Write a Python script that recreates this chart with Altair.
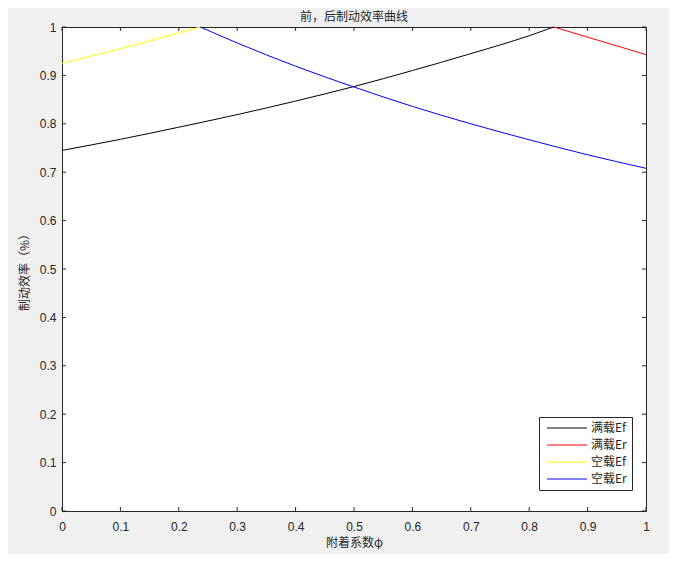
import altair as alt
import pandas as pd

# ---- data ----
series_names = ["满载Ef", "满载Er", "空载Ef", "空载Er"]
series_colors = ["#000000", "#ff0000", "#ffff00", "#0000ff"]

full_ef_phi = [0.0, 0.1, 0.2, 0.3, 0.4, 0.5, 0.6, 0.7, 0.8, 0.842]
full_ef_val = [0.745, 0.768, 0.793, 0.819, 0.847, 0.877, 0.910, 0.945, 0.982, 1.0]

full_er_phi = [0.842, 0.9, 0.95, 1.0]
full_er_val = [1.0, 0.979, 0.961, 0.943]

empty_ef_phi = [0.0, 0.05, 0.1, 0.15, 0.2, 0.237]
empty_ef_val = [0.925, 0.940, 0.955, 0.971, 0.988, 1.0]

empty_er_phi = [0.237, 0.3, 0.4, 0.5, 0.6, 0.7, 0.8, 0.9, 1.0]
empty_er_val = [1.0, 0.967, 0.919, 0.876, 0.836, 0.800, 0.767, 0.736, 0.708]

x_ticks = [0, 0.1, 0.2, 0.3, 0.4, 0.5, 0.6, 0.7, 0.8, 0.9, 1]
y_ticks = [0, 0.1, 0.2, 0.3, 0.4, 0.5, 0.6, 0.7, 0.8, 0.9, 1]

rows = []
for name, xs, ys in [
    (series_names[0], full_ef_phi, full_ef_val),
    (series_names[1], full_er_phi, full_er_val),
    (series_names[2], empty_ef_phi, empty_ef_val),
    (series_names[3], empty_er_phi, empty_er_val),
]:
    for i, (a, b) in enumerate(zip(xs, ys)):
        rows.append({"series": name, "phi": a, "eff": b, "i": i})
df = pd.DataFrame(rows)

W, H = 584, 484
AX = "#262626"
xscale = alt.Scale(domain=[0, 1], nice=False, zero=False)
yscale = alt.Scale(domain=[0, 1], nice=False, zero=False)
xaxis = alt.Axis(values=x_ticks, format="~g", title="附着系数φ", labelFlush=False,
                 labelPadding=10, titlePadding=5)
yaxis = alt.Axis(values=y_ticks, format="~g", title="制动效率（%）", labelFlush=False,
                 labelPadding=6, titlePadding=8)

lines = alt.Chart(df).mark_line(strokeWidth=1, interpolate="monotone").encode(
    x=alt.X("phi:Q", scale=xscale, axis=xaxis),
    y=alt.Y("eff:Q", scale=yscale, axis=yaxis),
    color=alt.Color("series:N", title=None,
                    scale=alt.Scale(domain=series_names, range=series_colors),
                    legend=alt.Legend(orient="none", legendX=477, legendY=390,
                                      symbolType="M-4,0H4", symbolSize=100,
                                      symbolStrokeWidth=1, symbolOffset=17,
                                      labelOffset=18, padding=5, rowPadding=5,
                                      strokeColor=AX, fillColor="white",
                                      labelFont="Noto Sans CJK SC", labelFontSize=12,
                                      labelColor=AX)),
    order="i:Q",
)

xt = pd.DataFrame({"phi": x_ticks})
yt = pd.DataFrame({"eff": y_ticks})
TL = 4
bottom_ticks = alt.Chart(xt).mark_rule(color=AX, strokeWidth=1).encode(
    x=alt.X("phi:Q", scale=xscale, axis=xaxis), y=alt.value(H), y2=alt.value(H - TL))
top_ticks = alt.Chart(xt).mark_rule(color=AX, strokeWidth=1).encode(
    x=alt.X("phi:Q", scale=xscale, axis=xaxis), y=alt.value(0), y2=alt.value(TL))
left_ticks = alt.Chart(yt).mark_rule(color=AX, strokeWidth=1).encode(
    y=alt.Y("eff:Q", scale=yscale, axis=yaxis), x=alt.value(0), x2=alt.value(TL))
right_ticks = alt.Chart(yt).mark_rule(color=AX, strokeWidth=1).encode(
    y=alt.Y("eff:Q", scale=yscale, axis=yaxis), x=alt.value(W), x2=alt.value(W - TL))

chart = alt.layer(lines, bottom_ticks, top_ticks, left_ticks, right_ticks).properties(
    width=W, height=H,
    autosize=alt.AutoSizeParams(type="none"),
    padding={"left": 54, "top": 19, "right": 23, "bottom": 43},
    background="#f0f0f0",
    title=alt.TitleParams("前，后制动效率曲线", font="Noto Sans CJK SC", fontSize=12,
                          fontWeight="normal", color=AX, offset=0, dy=3,
                          anchor="middle", frame="group"),
).configure_view(
    stroke=AX, strokeWidth=1, fill="white"
).configure_axis(
    grid=False, ticks=False, tickSize=0, domainColor=AX, domainWidth=1,
    labelFont="Liberation Sans", labelFontSize=12, labelColor=AX,
    titleFont="Noto Sans CJK SC", titleFontSize=12, titleColor=AX,
    titleFontWeight="normal",
)

chart.save("out.html", embed_options={"renderer": "svg", "actions": False})
